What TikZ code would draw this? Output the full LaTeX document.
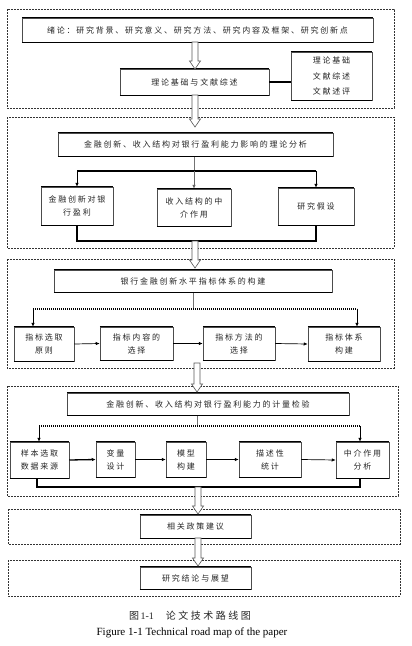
\documentclass[tikz,border=0pt]{standalone}
\usepackage{fontspec}
\setmainfont{Liberation Serif}
\newfontfamily\cjk[LetterSpace=22]{Noto Sans CJK SC}
\newfontfamily\cjkcap[LetterSpace=25]{Noto Sans CJK SC}
\usetikzlibrary{arrows.meta,calc}
\tikzset{
  box/.style={draw=black!70, line width=0.5pt, fill=white, inner sep=0pt, align=center,
    font=\cjk\fontsize{8}{13}\selectfont, text=black!85},
  edge/.style={line width=1.3pt, black},
  frame/.style={draw=black!80, line width=0.6pt, dash pattern=on 2pt off 1pt},
  harr/.style={draw=black!65, line width=0.6pt, fill=white},
  bus/.style={line width=1.1pt, black},
  gline/.style={line width=0.8pt, black!55},
  dbus/.style={line width=1.1pt, black, dash pattern=on 1.2pt off 0.8pt},
  arr/.style={line width=0.7pt, black, -{Latex[length=4pt,width=3.5pt]}},
}
\newcommand\harrow[2]{\draw[harr] let \p1=(#1), \p2=(#2) in
  (\x1-3pt,\y1) -- (\x1-3pt,\y2+8pt) -- (\x1-5.5pt,\y2+8pt) -- (\x1,\y2)
  -- (\x1+5.5pt,\y2+8pt) -- (\x1+3pt,\y2+8pt) -- (\x1+3pt,\y1) -- cycle;}
\begin{document}
\begin{tikzpicture}[x=1pt,y=-1pt]
\useasboundingbox (0,0) rectangle (412,646);
\fill[white] (0,0) rectangle (412,646);
% dashed frames
\draw[frame] (7,9) rectangle (394,108);
\draw[frame] (7,117) rectangle (394,248);
\draw[frame] (7,259) rectangle (394,368);
\draw[frame] (7,386) rectangle (398,496);
\draw[frame] (8,509) rectangle (400,544);
\draw[frame] (8,560) rectangle (400,596);
% section 1
\node[box, minimum width=351pt, minimum height=24pt] (t1) at (197.5,30) {绪论：研究背景、研究意义、研究方法、研究内容及框架、研究创新点};
\node[box, minimum width=149pt, minimum height=26pt] (t2) at (194.5,82) {理论基础与文献综述};
\node[box, minimum width=81pt, minimum height=48pt, font=\cjk\fontsize{8}{15.5}\selectfont] (side) at (331.5,76) {理论基础\\文献综述\\文献述评};
\draw[bus] (t2.east) -- (t2.east -| side.west);
% section 2
\node[box, minimum width=275pt, minimum height=23pt] (m2) at (195.5,144.5) {金融创新、收入结构对银行盈利能力影响的理论分析};
\node[box, minimum width=72pt, minimum height=38pt] (b21) at (77,206) {金融创新对银\\行盈利};
\node[box, minimum width=74pt, minimum height=37pt] (b22) at (194,207.5) {收入结构的中\\介作用};
\node[box, minimum width=76pt, minimum height=37pt] (b23) at (316,206.5) {研究假设};
\coordinate (bus2) at (194,171);
\coordinate (low2) at (195,241);
\draw[gline] (bus2 |- m2.south) -- (bus2);
\draw[bus] (b21.north |- bus2) -- (b23.north |- bus2);
\draw[arr] (b21.north |- bus2) -- (b21.north);
\draw[arr, black!60] (bus2) -- (b22.north);
\draw[arr] (b23.north |- bus2) -- (b23.north);
\draw[bus] (b21.south) -- (b21.south |- low2) -- (b23.south |- low2) -- (b23.south);
% section 3
\node[box, minimum width=278pt, minimum height=22pt] (m3) at (193,281) {银行金融创新水平指标体系的构建};
\node[box, minimum width=60pt, minimum height=34pt] (b31) at (44,344) {指标选取\\原则};
\node[box, minimum width=73pt, minimum height=33pt] (b32) at (136.5,343.5) {指标内容的\\选择};
\node[box, minimum width=72pt, minimum height=33pt] (b33) at (239,343.5) {指标方法的\\选择};
\node[box, minimum width=72pt, minimum height=34pt] (b34) at (344,344) {指标体系\\构建};
\coordinate (bus3) at (193,309);
\coordinate (bus3l) at (33,309);
\coordinate (bus3r) at (357,309);
\draw[gline] (bus3 |- m3.south) -- (bus3);
\draw[dbus] (bus3l) -- (bus3r);
\draw[arr] (bus3l) -- (bus3l |- b31.north);
\draw[arr] (bus3r) -- (bus3r |- b34.north);
\draw[arr] (b31.east) -- (b32.west);
\draw[arr] (b32.east) -- (b33.west);
\draw[arr] (b33.east) -- (b34.west);
% section 4
\node[box, minimum width=282pt, minimum height=22pt] (m4) at (208,404) {金融创新、收入结构对银行盈利能力的计量检验};
\node[box, minimum width=59pt, minimum height=36pt] (b41) at (39.5,460) {样本选取\\数据来源};
\node[box, minimum width=39pt, minimum height=35pt] (b42) at (115.5,459.5) {变量\\设计};
\node[box, minimum width=40pt, minimum height=35pt] (b43) at (186,459.5) {模型\\构建};
\node[box, minimum width=62pt, minimum height=35pt] (b44) at (270,459.5) {描述性\\统计};
\node[box, minimum width=53pt, minimum height=36pt] (b45) at (362.5,460) {中介作用\\分析};
\coordinate (bus4) at (197,426);
\coordinate (bus4l) at (39,426);
\coordinate (bus4r) at (360,426);
\coordinate (low4) at (37,487);
\draw[gline] (bus4 |- m4.south) -- (bus4);
\draw[dbus] (bus4l) -- (bus4r);
\draw[arr] (bus4l) -- (bus4l |- b41.north);
\draw[arr] (bus4r) -- (bus4r |- b45.north);
\draw[arr, line width=1.3pt] (b41.east) -- (b42.west);
\draw[arr] (b42.east) -- (b43.west);
\draw[arr] (b43.east) -- (b44.west);
\draw[arr] (b44.east) -- (b45.west);
\draw[bus] (low4 |- b41.south) -- (low4) -- (bus4r |- low4) -- (bus4r |- b45.south);
% sections 5, 6
\node[box, minimum width=111pt, minimum height=23pt] (b5) at (195.5,526.5) {相关政策建议};
\node[box, minimum width=111pt, minimum height=22pt] (b6) at (195.5,578) {研究结论与展望};
% thick top and bottom edges
\foreach \n in {t1,t2,side,m2,b21,b22,b23,m3,b31,b32,b33,b34,m4,b41,b42,b43,b44,b45,b5,b6}{
  \draw[edge] (\n.north west) -- (\n.north east);
  \draw[edge] (\n.south west) -- (\n.south east);
}
% hollow arrows
\coordinate (a1s) at (195,42);  \coordinate (a1e) at (195,69);
\coordinate (a2s) at (195,95);  \coordinate (a2e) at (195,127);
\coordinate (a3s) at (195,241); \coordinate (a3e) at (195,268);
\coordinate (a4s) at (197,363); \coordinate (a4e) at (197,392);
\coordinate (a5s) at (198,487); \coordinate (a5e) at (198,514);
\coordinate (a6s) at (198,538); \coordinate (a6e) at (198,566);
\harrow{a1s}{a1e}
\harrow{a2s}{a2e}
\harrow{a3s}{a3e}
\harrow{a4s}{a4e}
\harrow{a5s}{a5e}
\harrow{a6s}{a6e}
% caption
\node[font=\fontsize{10}{11}\selectfont, text=black!85] (cap1) at (190,616) {{\cjkcap 图}\,1-1\hspace{12pt}{\cjkcap 论文技术路线图}};
\node[font=\fontsize{11}{12}\selectfont] (cap2) at (192,633) {Figure 1-1 Technical road map of the paper};
\end{tikzpicture}
\end{document}
